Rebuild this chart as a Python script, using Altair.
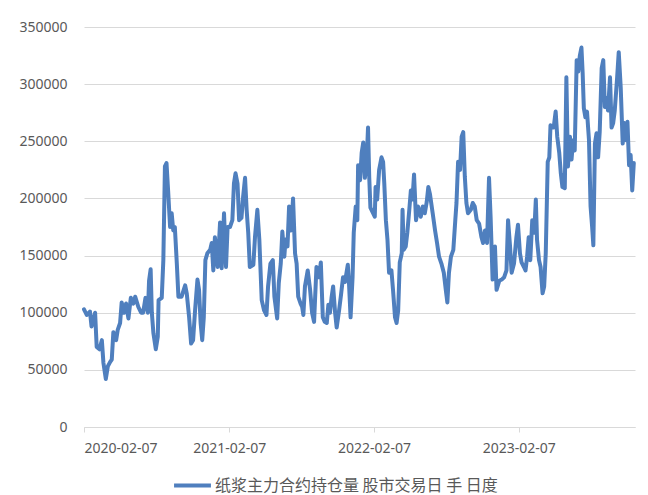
import altair as alt
import pandas as pd

# days after 2020-02-07
days = [
    0, 7, 15, 19, 28, 32, 39, 45, 49, 55, 60, 66, 70, 74, 81, 85, 91, 95, 101, 106,
    112, 118, 124, 129, 137, 144, 149, 155, 161, 164, 168, 171, 175, 181, 186, 188, 196, 200, 204, 208,
    212, 217, 221, 225, 229, 234, 238, 246, 255, 259, 265, 270, 275, 280, 286, 290, 294, 298, 302, 306,
    311, 318, 322, 326, 330, 337, 343, 347, 353, 358, 362, 368, 374, 378, 382, 387, 391, 397, 401, 406,
    410, 414, 418, 427, 431, 437, 442, 448, 454, 460, 464, 470, 476, 480, 487, 491, 496, 500, 505, 508,
    513, 517, 522, 527, 532, 536, 540, 546, 550, 553, 557, 564, 570, 575, 580, 586, 592, 597, 602, 607,
    612, 616, 620, 624, 628, 633, 637, 643, 648, 653, 658, 665, 668, 672, 677, 680, 685, 689, 691, 696,
    700, 704, 708, 712, 716, 719, 722, 729, 733, 735, 739, 744, 750, 754, 757, 761, 765, 769, 775, 779,
    784, 788, 792, 796, 801, 803, 806, 811, 815, 820, 824, 828, 832, 837, 842, 849, 854, 859, 864, 868,
    872, 879, 885, 890, 895, 901, 907, 912, 916, 920, 925, 931, 936, 939, 943, 948, 952, 956, 960, 964,
    968, 975, 980, 985, 990, 996, 1002, 1006, 1011, 1016, 1021, 1025, 1030, 1036, 1040, 1047, 1053, 1059, 1065, 1069,
    1074, 1078, 1084, 1090, 1094, 1099, 1103, 1109, 1113, 1117, 1121, 1125, 1130, 1135, 1139, 1142, 1147, 1151, 1156, 1160,
    1164, 1169, 1173, 1176, 1180, 1184, 1189, 1193, 1198, 1202, 1206, 1212, 1216, 1220, 1225, 1229, 1233, 1237, 1242, 1246,
    1250, 1254, 1257, 1260, 1264, 1268, 1273, 1277, 1281, 1284, 1288, 1292, 1296, 1300, 1305, 1309, 1313, 1317, 1321, 1326,
    1330, 1334, 1338, 1344, 1348, 1353, 1358, 1362, 1366, 1370, 1374, 1378, 1382, 1386,
]

# open interest, thousands of lots
open_interest = [
    103, 98, 101, 88, 100, 70, 68, 76, 56, 42, 53, 57, 59, 83, 76, 85, 91, 109, 100, 108,
    95, 113, 108, 114, 105, 100, 100, 113, 100, 128, 138, 100, 82, 68, 79, 111, 113, 146, 228, 231,
    207, 175, 187, 172, 175, 143, 114, 114, 124, 117, 96, 73, 76, 102, 129, 120, 91, 76, 96, 146,
    152, 155, 161, 137, 166, 140, 179, 139, 187, 140, 175, 175, 181, 213, 222, 213, 181, 183, 201, 218,
    190, 170, 140, 142, 166, 190, 164, 111, 102, 98, 123, 143, 146, 114, 95, 126, 143, 171, 149, 164,
    158, 193, 172, 200, 152, 143, 114, 108, 105, 98, 123, 137, 120, 100, 92, 140, 131, 144, 96, 92,
    91, 107, 100, 113, 123, 100, 87, 102, 116, 131, 127, 142, 126, 96, 131, 170, 193, 181, 229, 216,
    240, 249, 218, 228, 262, 219, 192, 187, 184, 210, 199, 225, 236, 232, 213, 181, 164, 135, 137, 120,
    96, 91, 102, 144, 152, 190, 155, 158, 170, 190, 207, 199, 221, 181, 193, 184, 193, 187, 197, 210,
    204, 187, 172, 161, 149, 143, 135, 120, 109, 135, 149, 155, 181, 196, 232, 225, 254, 258, 219, 196,
    187, 190, 196, 193, 181, 178, 166, 161, 172, 161, 218, 184, 129, 158, 120, 128, 129, 131, 137, 181,
    158, 135, 143, 166, 177, 152, 144, 140, 137, 149, 166, 146, 181, 170, 199, 164, 146, 140, 117, 123,
    152, 232, 236, 264, 262, 262, 276, 254, 240, 222, 210, 209, 306, 228, 254, 234, 251, 242, 321, 311,
    325, 332, 310, 279, 271, 276, 251, 193, 175, 159, 248, 257, 236, 258, 314, 321, 280, 288, 277, 306,
    262, 266, 277, 306, 328, 297, 248, 266, 251, 267, 229, 238, 207, 231,
]

series_name = "纸浆主力合约持仓量 股市交易日 手 日度"
tick_years = [2020, 2021, 2022, 2023]
y_ticks = [0, 50000, 100000, 150000, 200000, 250000, 300000, 350000]

line_color = "#4F7FBE"
text_color = "#595959"
grid_color = "#D9D9D9"

start = pd.Timestamp("2020-02-07")
frame = pd.DataFrame({
    "date": (start + pd.to_timedelta(days, unit="D")).strftime("%Y-%m-%d"),
    "value": [v * 1000 for v in open_interest],
    "series": series_name,
})

x_axis = alt.Axis(
    values=[alt.DateTime(year=y, month=2, date=7, utc=True) for y in tick_years],
    labelExpr="utcFormat(datum.value, '%Y-%m-%d')",
    grid=False,
    domainColor=grid_color,
    tickColor=grid_color,
    tickSize=5,
    labelPadding=9,
    labelColor=text_color,
    labelFont="Noto Sans",
    labelFontSize=14,
    title=None,
)

y_axis = alt.Axis(
    values=y_ticks,
    format="d",
    domain=False,
    ticks=False,
    gridColor=grid_color,
    labelPadding=17,
    labelColor=text_color,
    labelFont="Noto Sans",
    labelFontSize=14,
    title=None,
)

# long flat swatch: a path twice as wide as the symbol box, so the row stays short
legend = alt.Legend(
    orient="none",
    legendX=97,
    legendY=447,
    padding=0,
    title=None,
    symbolType="M-2,0H2",
    symbolSize=340,
    symbolStrokeWidth=4,
    labelOffset=11,
    labelFont="Noto Sans CJK SC",
    labelFontSize=16,
    labelColor=text_color,
    labelLimit=400,
)

chart = (
    alt.Chart(frame)
    .mark_line(strokeWidth=4, strokeJoin="round", strokeCap="round")
    .encode(
        x=alt.X(
            "date:T",
            scale=alt.Scale(
                type="utc",
                domain=[
                    alt.DateTime(year=2020, month=2, date=7, utc=True),
                    alt.DateTime(year=2023, month=11, date=27, utc=True),
                ],
            ),
            axis=x_axis,
        ),
        y=alt.Y("value:Q", scale=alt.Scale(domain=[0, 350000], nice=False), axis=y_axis),
        color=alt.Color("series:N", scale=alt.Scale(range=[line_color]), legend=legend),
    )
    .properties(
        width=551,
        height=400,
        padding={"left": 76, "top": 19, "right": 5, "bottom": 68},
        autosize=alt.AutoSizeParams(type="none"),
    )
    .configure_view(stroke=None)
)

chart.save("out.html", embed_options={"renderer": "svg", "actions": False})
